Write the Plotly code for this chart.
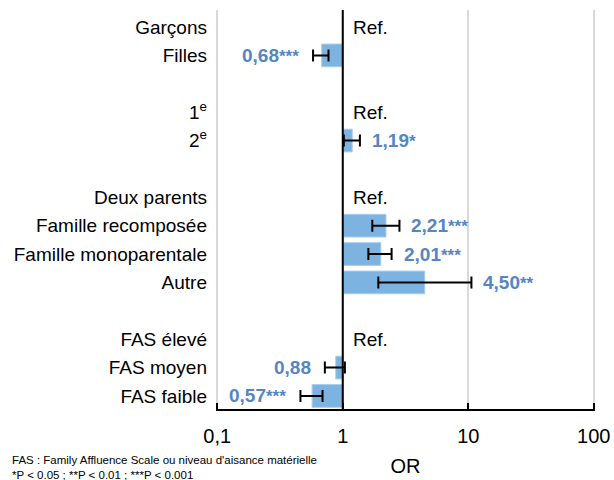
import math
import plotly.graph_objects as go

FONT = "Liberation Sans, Arial, sans-serif"
BAR_COLOR = "#7db3e0"
LABEL_COLOR = "#5585c4"

# one row per category, blank rows separate the groups
row_labels = ["Garçons", "Filles", "",
              "1<sup>e</sup>", "2<sup>e</sup>", "",
              "Deux parents", "Famille recomposée", "Famille monoparentale", "Autre", "",
              "FAS élevé", "FAS moyen", "FAS faible"]
or_vals = [None, 0.68, None, None, 1.19, None, None, 2.21, 2.01, 4.50, None, None, 0.88, 0.57]
ci_low = [None, 0.58, None, None, 1.02, None, None, 1.72, 1.60, 1.92, None, None, 0.72, 0.46]
ci_high = [None, 0.77, None, None, 1.37, None, None, 2.83, 2.45, 10.6, None, None, 1.04, 0.69]
signif = ["", "***", "", "", "*", "", "", "***", "***", "**", "", "", "", "***"]
is_ref = [True, False, False, True, False, False, True, False, False, False, False, True, False, False]

rows = list(range(len(row_labels)))
idx = [i for i in rows if or_vals[i] is not None]

fig = go.Figure()

fig.add_trace(go.Bar(
    orientation="h",
    y=[i for i in idx],
    x=[or_vals[i] - 1 for i in idx],
    base=[1] * len(idx),
    width=0.8,
    marker=dict(color=BAR_COLOR, line=dict(color="#a8cdee", width=1)),
    hoverinfo="skip",
))

fig.add_trace(go.Scatter(
    y=[i for i in idx],
    x=[or_vals[i] for i in idx],
    mode="markers",
    marker=dict(size=1, color="rgba(0,0,0,0)"),
    error_x=dict(type="data", symmetric=False,
                 array=[ci_high[i] - or_vals[i] for i in idx],
                 arrayminus=[or_vals[i] - ci_low[i] for i in idx],
                 color="black", thickness=2, width=6),
    hoverinfo="skip",
))

for i in idx:
    txt = "<b>{}{}</b>".format("{:.2f}".format(or_vals[i]).replace(".", ","),
                               "<span style='font-size:17px'>" + signif[i] + "</span>" if signif[i] else "")
    if or_vals[i] >= 1:
        fig.add_annotation(x=math.log10(ci_high[i]), y=i, text=txt, xanchor="left", xshift=10,
                           showarrow=False, font=dict(size=19, color=LABEL_COLOR, family=FONT))
    else:
        fig.add_annotation(x=math.log10(ci_low[i]), y=i, text=txt, xanchor="right", xshift=-12,
                           showarrow=False, font=dict(size=19, color=LABEL_COLOR, family=FONT))

for i in rows:
    if is_ref[i]:
        fig.add_annotation(x=0, y=i, text="Ref.", xanchor="left", xshift=8,
                           showarrow=False, font=dict(size=19, color="black", family=FONT))

fig.add_shape(type="line", x0=1, x1=1, xref="x", y0=0, y1=1, yref="paper",
              line=dict(color="black", width=2), layer="above")

fig.add_annotation(xref="paper", yref="paper", x=0, y=0, xanchor="left", yanchor="top",
                   xshift=-206, yshift=-43, align="left", showarrow=False,
                   text="FAS : Family Affluence Scale ou niveau d'aisance matérielle<br>*P < 0.05 ; **P < 0.01 ; ***P < 0.001",
                   font=dict(size=11.5, color="black", family=FONT))

fig.update_layout(
    width=614, height=480,
    margin=dict(l=216, r=19, t=10, b=71, autoexpand=False),
    plot_bgcolor="white", paper_bgcolor="white",
    showlegend=False,
    font=dict(family=FONT, color="black"),
)
fig.update_xaxes(
    type="log", range=[-1.01, 2.01],
    tickvals=[0.1, 1, 10, 100], ticktext=["0,1", "1", "10", "100"],
    tickfont=dict(size=20), ticks="inside", ticklen=6, tickcolor="black", tickwidth=2,
    ticklabelstandoff=8,
    showline=True, linecolor="black", linewidth=2,
    showgrid=True, gridcolor="#d9d9d9", gridwidth=2,
    title=dict(text="OR", font=dict(size=20), standoff=13),
    zeroline=False, automargin=False,
)
fig.update_yaxes(
    range=[13.46, -0.6],
    tickvals=rows, ticktext=row_labels,
    tickfont=dict(size=19), ticks="", ticklabelstandoff=8,
    showgrid=False, zeroline=False, showline=False, automargin=False,
)

fig.write_html("out.html", config={"displayModeBar": False},
               post_script="document.body.style.margin='0';")
